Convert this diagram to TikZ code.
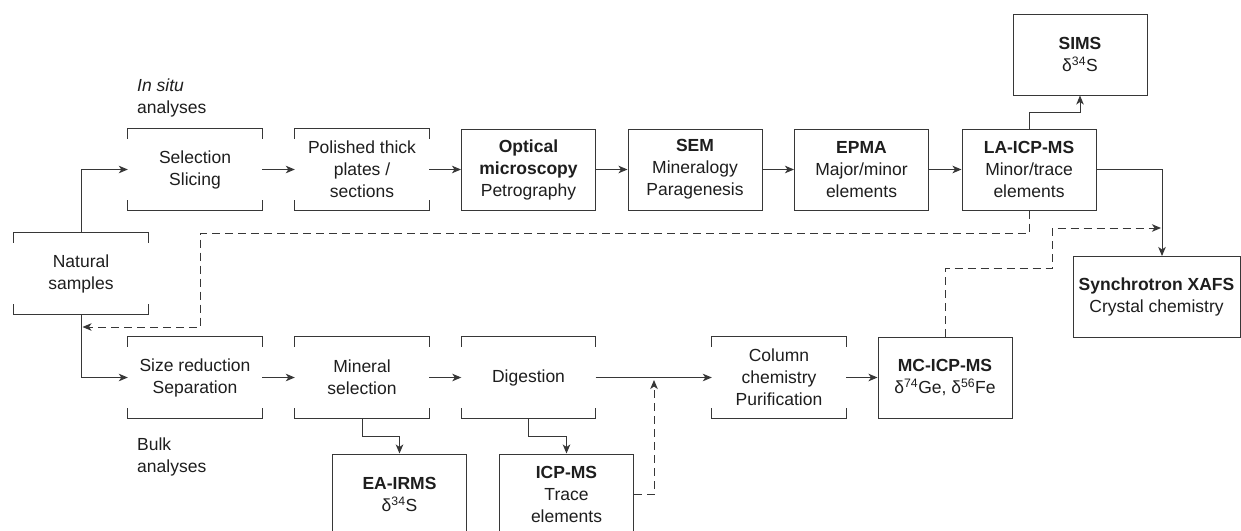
\documentclass[tikz,border=0pt]{standalone}
\usepackage{fontspec}
\setmainfont{Liberation Sans}
\usetikzlibrary{arrows.meta}
\definecolor{lc}{RGB}{55,55,55}
\definecolor{tc}{RGB}{30,30,30}
\newcommand{\brk}[1]{%
  \draw[ln] ([yshift=-10pt]#1.north west) -- (#1.north west) -- (#1.north east) -- ([yshift=-10pt]#1.north east);
  \draw[ln] ([yshift=10pt]#1.south west) -- (#1.south west) -- (#1.south east) -- ([yshift=10pt]#1.south east);}
\begin{document}
\begin{tikzpicture}[x=1pt,y=1pt,
  font=\fontsize{17.5}{22}\selectfont,
  obox/.style={minimum width=134pt, minimum height=81pt, inner sep=0pt, align=center, text=tc},
  box/.style={obox, draw=lc, line width=1pt},
  ln/.style={draw=lc, line width=1pt},
  arr/.style={ln, -{Stealth[length=9pt,width=7.5pt,inset=2.5pt]}},
  dsh/.style={arr, dash pattern=on 8pt off 5pt},
  lbl/.style={anchor=base west, align=left, inner sep=0pt, text=tc}]
\clip (0,0) rectangle (1241,-530);
\fill[white] (0,0) rectangle (1241,-530);

% labels
\node[lbl] (insitu) at (137,-113.5) {\textit{In situ}\\analyses};
\node[lbl] (bulk) at (137,-472.5) {Bulk\\analyses};

% open (bracket) boxes
\node[obox] (nat) at (81,-273.5) {Natural\\samples};
\node[obox] (sel) at (195,-169.5) {Selection\\Slicing};
\node[obox] (pol) at (362,-169.5) {Polished thick\\plates /\\sections};
\node[obox] (size) at (195,-377.5) {Size reduction\\Separation};
\node[obox] (min) at (362,-377.5) {Mineral\\selection};
\node[obox] (dig) at (528.5,-377.5) {Digestion};
\node[obox] (col) at (779,-377.5) {Column\\chemistry\\Purification};
\brk{nat}\brk{sel}\brk{pol}\brk{size}\brk{min}\brk{dig}\brk{col}

% closed boxes
\node[box] (opt) at (528.5,-169.5) {\textbf{Optical}\\\textbf{microscopy}\\Petrography};
\node[box] (sem) at (695,-169.5) {\textbf{SEM}\\Mineralogy\\Paragenesis};
\node[box] (epma) at (861.5,-169.5) {\textbf{EPMA}\\Major/minor\\elements};
\node[box] (la) at (1029,-169.5) {\textbf{LA-ICP-MS}\\Minor/trace\\elements};
\node[box] (sims) at (1080,-54.5) {\textbf{SIMS}\\δ\textsuperscript{34}S};
\node[box, minimum width=167pt] (syn) at (1156.5,-296.5) {\textbf{Synchrotron XAFS}\\Crystal chemistry};
\node[box] (mc) at (945,-377.5) {\textbf{MC-ICP-MS}\\δ\textsuperscript{74}Ge, δ\textsuperscript{56}Fe};
\node[box] (ea) at (399.5,-494.5) {\textbf{EA-IRMS}\\δ\textsuperscript{34}S};
\node[box] (icp) at (566.5,-494.5) {\textbf{ICP-MS}\\Trace\\elements};

% helper coordinates
\coordinate (d1) at (200,-233);
\coordinate (j1) at (82.5,-327);
\coordinate (j2) at (654,-380);
\coordinate (c1) at (1052,-268);
\coordinate (j3) at (1161,-228);
\coordinate (s1) at (1162,-256);

% solid connectors
\draw[arr] (nat.north) |- (sel.west);
\draw[arr] (nat.south) |- (size.west);
\draw[arr] (sel.east) -- (pol.west);
\draw[arr] (pol.east) -- (opt.west);
\draw[arr] (opt.east) -- (sem.west);
\draw[arr] (sem.east) -- (epma.west);
\draw[arr] (epma.east) -- (la.west);
\draw[arr] (la.north) -- ++(0,16) -| (sims.south);
\draw[arr] (la.east) -| (s1);
\draw[arr] (size.east) -- (min.west);
\draw[arr] (min.east) -- (dig.west);
\draw[arr] (dig.east) -- (col.west);
\draw[arr] (col.east) -- (mc.west);
\draw[arr] (min.south) -- ++(0,-18) -| (ea.north);
\draw[arr] (dig.south) -- ++(0,-18) -| (icp.north);

% dashed connectors
\draw[dsh] (la.south) |- (d1) |- (j1);
\draw[dsh] (icp.east) -| (j2);
\draw[dsh] (mc.north) |- (c1) |- (j3);
\end{tikzpicture}
\end{document}
